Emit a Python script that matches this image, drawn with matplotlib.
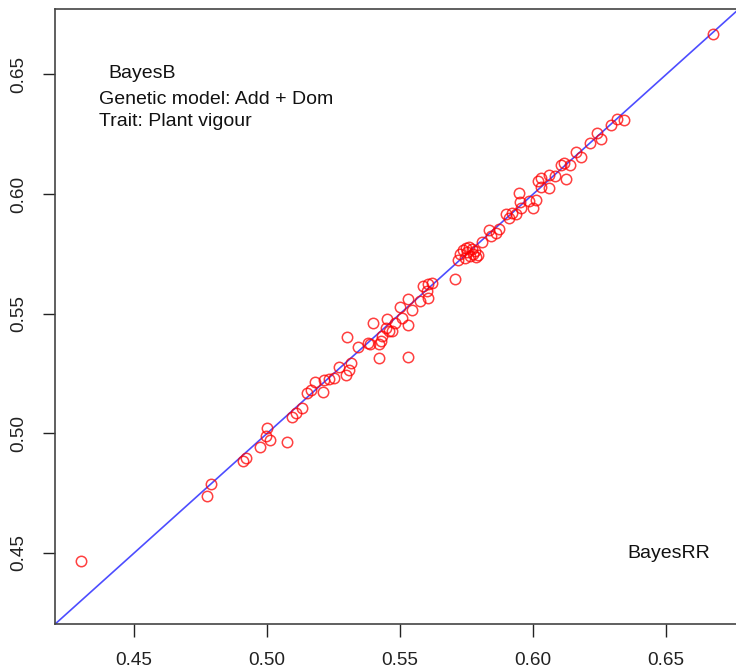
import matplotlib
matplotlib.use("Agg")
import matplotlib.pyplot as plt

# BayesRR (x) vs BayesB (y) accuracies
bayes_rr = [0.4299, 0.4775, 0.4790, 0.4910, 0.4921, 0.4974, 0.5000, 0.4996, 0.5011, 0.5075,
            0.5094, 0.5109, 0.5131, 0.5150, 0.5165, 0.5180, 0.5210, 0.5214, 0.5233, 0.5251,
            0.5270, 0.5296, 0.5308, 0.5315, 0.5300, 0.5341, 0.5379, 0.5386, 0.5398, 0.5420,
            0.5427, 0.5420, 0.5431, 0.5446, 0.5450, 0.5458, 0.5469, 0.5480, 0.5499, 0.5506,
            0.5529, 0.5529, 0.5529, 0.5544, 0.5574, 0.5585, 0.5604, 0.5600, 0.5604, 0.5619,
            0.5705, 0.5716, 0.5724, 0.5735, 0.5747, 0.5758, 0.5769, 0.5780, 0.5791, 0.5784,
            0.5761, 0.5743, 0.5773, 0.5750, 0.5807, 0.5833, 0.5840, 0.5859, 0.5870, 0.5897,
            0.5908, 0.5919, 0.5934, 0.5945, 0.5949, 0.5956, 0.5983, 0.5998, 0.6009, 0.6020,
            0.6031, 0.6031, 0.6058, 0.6061, 0.6084, 0.6106, 0.6117, 0.6125, 0.6140, 0.6162,
            0.6181, 0.6215, 0.6241, 0.6256, 0.6294, 0.6317, 0.6343, 0.6677]
bayes_b = [0.4467, 0.4738, 0.4788, 0.4883, 0.4896, 0.4942, 0.5021, 0.4988, 0.4971, 0.4963,
           0.5067, 0.5083, 0.5104, 0.5167, 0.5183, 0.5213, 0.5171, 0.5221, 0.5229, 0.5233,
           0.5279, 0.5242, 0.5263, 0.5292, 0.5404, 0.5363, 0.5379, 0.5375, 0.5463, 0.5375,
           0.5388, 0.5317, 0.5408, 0.5442, 0.5479, 0.5429, 0.5429, 0.5463, 0.5529, 0.5483,
           0.5563, 0.5454, 0.5321, 0.5517, 0.5554, 0.5617, 0.5567, 0.5596, 0.5625, 0.5629,
           0.5646, 0.5725, 0.5750, 0.5767, 0.5775, 0.5779, 0.5771, 0.5763, 0.5746, 0.5738,
           0.5742, 0.5733, 0.5750, 0.5758, 0.5800, 0.5850, 0.5825, 0.5838, 0.5854, 0.5917,
           0.5900, 0.5921, 0.5917, 0.6004, 0.5967, 0.5942, 0.5971, 0.5942, 0.5975, 0.6054,
           0.6067, 0.6029, 0.6025, 0.6079, 0.6075, 0.6121, 0.6129, 0.6063, 0.6121, 0.6175,
           0.6154, 0.6213, 0.6254, 0.6229, 0.6288, 0.6313, 0.6308, 0.6671]

ticks = [0.45, 0.50, 0.55, 0.60, 0.65]
tick_labels = ["0.45", "0.50", "0.55", "0.60", "0.65"]

plt.rcParams['font.family'] = ['Liberation Sans', 'DejaVu Sans']

W, H = 736, 672
fig = plt.figure(figsize=(W / 100, H / 100), dpi=100)
# axes box in pixels (right edge runs just past the image, as in the reference)
left, right, top, bottom = 55.4, 738.5, 9.4, 623.8
ax = fig.add_axes([left / W, (H - bottom) / H, (right - left) / W, (bottom - top) / H])

# common range with R-style 4% padding
lo = min(min(bayes_rr), min(bayes_b))
hi = max(max(bayes_rr), max(bayes_b))
pad = 0.04 * (hi - lo)
ax.set_xlim(lo - pad, hi + pad)
ax.set_ylim(lo - pad, hi + pad)

ax.plot([lo - pad, hi + pad], [lo - pad, hi + pad], color=(0.3, 0.3, 1.0), lw=1.2, zorder=1)
ax.plot(bayes_rr, bayes_b, 'o', ms=7.5, mfc='none', mec='red', mew=1.1, alpha=0.75, zorder=2)

ax.set_xticks(ticks)
ax.set_xticklabels(tick_labels)
ax.set_yticks(ticks)
ax.set_yticklabels(tick_labels, rotation=90, va='center')
ax.tick_params(length=9, width=1, pad=11, labelsize=13.7, colors='#222222')
for s in ax.spines.values():
    s.set_color('#444444')
    s.set_linewidth(1.2)

def ftext(px, py, s):
    fig.text(px / W, 1 - py / H, s, fontsize=14, ha='left', va='center', color='#111111')

ftext(108, 73, "BayesB")
ftext(99, 100, "Genetic model: Add + Dom")
ftext(99, 122, "Trait: Plant vigour")
ftext(627, 553, "BayesRR")

fig.savefig("out.png", dpi=100)
